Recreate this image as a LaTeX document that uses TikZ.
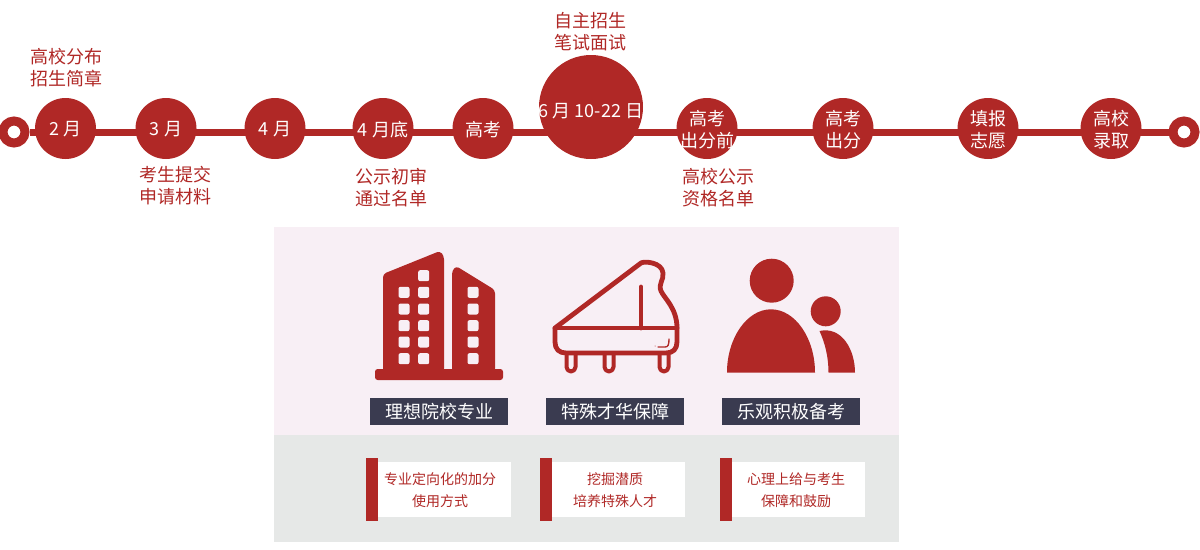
\documentclass[tikz,border=0pt]{standalone}
\usepackage{xcolor}
\usepackage{fontspec}
\setmainfont{Noto Sans CJK SC}
\usepackage{tikz}
\usetikzlibrary{calc}
\definecolor{markred}{HTML}{B02826}
\definecolor{panelpink}{HTML}{F8EFF5}
\definecolor{panelgray}{HTML}{E6E8E7}
\definecolor{tagdark}{HTML}{3A3B50}
\tikzset{
 month/.style={circle, fill=markred, minimum size=45.75pt, inner sep=0},
 monthtext/.style={text=white, inner sep=0, align=center, yshift=-.75pt, font=\fontsize{13.5}{16.5}\selectfont},
 ring/.style={circle, draw=markred, line width=6.75pt, fill=white, minimum size=16.5pt, inner sep=0},
 note/.style={text=markred, align=center, inner sep=0, font=\fontsize{13.5}{16.5}\selectfont},
 tag/.style={fill=tagdark, text=white, minimum width=103.5pt, minimum height=20.25pt, inner sep=0, font=\fontsize{13.5}{16}\selectfont},
 card/.style={fill=white, minimum width=99.75pt, minimum height=41.25pt, inner sep=0},
 cardtext/.style={text=markred, inner sep=0, align=center, font=\fontsize{10.5}{16.5}\selectfont},
 bar/.style={fill=markred, minimum width=9pt, minimum height=47.25pt, inner sep=0},
 icon/.style={markred, line width=3.6pt, line join=round, line cap=round},
}
\begin{document}
\begin{tikzpicture}[x=.75pt, y=-.75pt]
\useasboundingbox (0,0) rectangle (1200,550);
% panels
\fill[panelpink] (274,227) rectangle (899,435);
\fill[panelgray] (274,435) rectangle (899,542);

% time line
\node[ring] (start) at (14,132) {};
\node[ring] (finish) at (1184,132) {};
\draw[markred, line width=5.25pt] (start) -- (finish);
\foreach \x/\name/\txt in {65.5/feb/{2 月}, 166/mar/{3 月}, 275/apr/{4 月}, 383/aprend/{4 月底}, 483/exam/{高考},
 707/before/{高考\\出分前}, 843/score/{高考\\出分}, 988/fill/{填报\\志愿}, 1111/admit/{高校\\录取}} {
 \node[month, label={[monthtext]center:{\txt}}] (\name) at (\x,128.5) {};
}
\node[month, minimum size=78pt, label={[monthtext, yshift=-2.25pt]center:{6 月 10-22 日}}] (june) at (591,107) {};

% notes
\node[note] (n1) at (66,67.5) {高校分布\\招生简章};
\node[note] (n2) at (590,31.5) {自主招生\\笔试面试};
\node[note] (n3) at (175,186) {考生提交\\申请材料};
\node[note] (n4) at (391,188) {公示初审\\通过名单};
\node[note] (n5) at (718,188) {高校公示\\资格名单};

% building
\fill[markred, rounded corners=2pt] (375,369) rectangle (503,380);
\fill[markred, rounded corners=2.5pt] (383,369) -- (383,274) -- (440,251) -- (444,256) -- (444,372) -- (383,372) -- cycle;
\fill[markred, rounded corners=2.5pt] (452,372) -- (452,271) -- (456,266) -- (495,290) -- (495,372) -- cycle;
\foreach \y in {292.3, 309, 325.7, 342, 358.7} {
 \foreach \x in {404, 423.7, 473} {
  \fill[panelpink, rounded corners=1.5pt] (\x-5.5,\y-5.5) rectangle ++(11,11);
 }
}
\fill[panelpink, rounded corners=1.5pt] (418.2,270.2) rectangle ++(11,11);

% piano
\draw[icon] (555,328) -- (641,263) .. controls (644,261) and (662,262) .. (663,273)
 .. controls (664,280) and (658,284) .. (661,291) .. controls (664,298) and (677,308) .. (677,328)
 -- (677,342) .. controls (677,349) and (673,353) .. (666,353) -- (566,353)
 .. controls (559,353) and (555,349) .. (555,342) -- cycle;
\draw[icon] (555,328) -- (677,328);
\draw[icon] (641,287) -- (641,328);
\foreach \x in {571, 609, 664} {
 \draw[icon, line width=3pt] (\x-4.5,355) -- (\x-4.5,367) arc (180:0:4.5) -- (\x+4.5,355);
}
\draw[markred, line width=1pt, line cap=round] (658,347) -- (665,347) .. controls (668,347) and (669,345) .. (669,339);
\fill[markred] (655,346) circle (.5);

% people
\fill[markred] (771.7,280.7) circle (22);
\fill[markred] (727,372.5) .. controls (727,338) and (747,309.3) .. (771,309.3) .. controls (795,309.3) and (815,338) .. (815,372.5) -- cycle;
\fill[markred] (825.7,311.3) circle (15);
\fill[markred] (819.5,331) .. controls (842,326) and (855,350) .. (855,372.5) -- (828.5,372.5) .. controls (828.5,357) and (825,343) .. (819.5,331) -- cycle;

% tags and cards
\foreach \x/\y/\t/\name/\ttl/\txt in {439/366/440/a/理想院校专业/{专业定向化的加分\\使用方式},
 615/540/615/b/特殊才华保障/{挖掘潜质\\培养特殊人才}, 791/720/796/c/乐观积极备考/{心理上给与考生\\保障和鼓励}} {
 \node[tag] (tag\name) at (\x,411.5) {\ttl};
 \node[bar, anchor=west] (bar\name) at (\y,489.5) {};
 \node[card, anchor=west] (card\name) at ($(\y,489.5)+(12,0)$) {};
 \node[cardtext] (text\name) at (\t,490) {\txt};
}
\end{tikzpicture}
\end{document}
